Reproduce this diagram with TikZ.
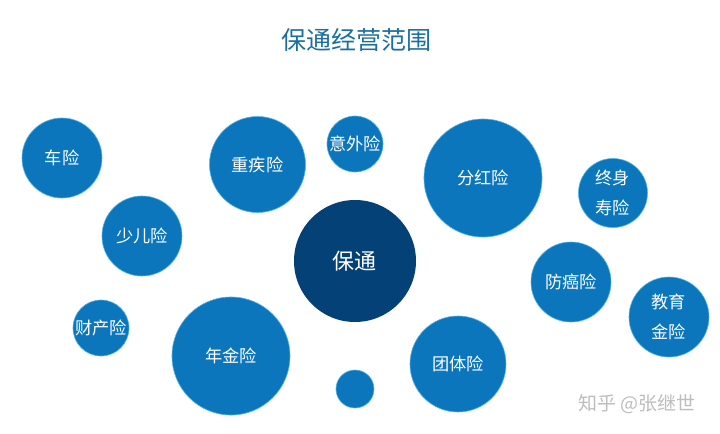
\documentclass[tikz,border=0pt]{standalone}
\usepackage{fontspec}
\setmainfont{Noto Sans CJK SC}
\usetikzlibrary{backgrounds}
\definecolor{ballblue}{HTML}{0B76BC}
\definecolor{hubblue}{HTML}{044177}
\definecolor{haloblue}{HTML}{4FB4E6}
\definecolor{titleblue}{HTML}{1B6F9F}
\definecolor{linkgrey}{HTML}{A8A8A8}
\definecolor{markgrey}{HTML}{BDBDBD}
\tikzset{
  x=0.5pt,y=-0.5pt,
  ball/.style={circle,fill=ballblue,draw=haloblue,line width=0.3pt,inner sep=0pt,outer sep=0pt,text=white,font=\fontsize{8.6}{15}\selectfont,align=center},
  hub/.style={circle,fill=hubblue,draw=none,inner sep=0pt,outer sep=0pt,text=white,font=\fontsize{11}{13}\selectfont,minimum size=61pt},
  link/.style={draw=linkgrey,line width=0.45pt},
}
\begin{document}
\begin{tikzpicture}
\useasboundingbox (0,0) rectangle (720,434);
\fill[white] (0,0) rectangle (720,434);
\node[text=titleblue,font=\fontsize{12.5}{15}\selectfont] (title) at (357,40) {保通经营范围};
\node[hub] (bt) at (355,261) {保通};
\node[ball,minimum size=40pt] (che) at (62,158) {车险};
\node[ball,minimum size=48pt] (zj) at (257.5,164.5) {重疾险};
\node[ball,minimum size=28pt] (yw) at (355,144) {意外险};
\node[ball,minimum size=40pt] (se) at (142,236) {少儿险};
\node[ball,minimum size=28pt] (cc) at (101,328) {财产险};
\node[ball,minimum size=59pt] (nj) at (231,356) {年金险};
\node[ball,minimum size=19pt] (xy) at (355,389) {};
\node[ball,minimum size=59pt] (fh) at (483,178) {分红险};
\node[ball,minimum size=34.5pt] (zs) at (613,193) {终身\\寿险};
\node[ball,minimum size=40pt] (fa) at (571,282) {防癌险};
\node[ball,minimum size=40pt] (jy) at (669,317) {教育\\金险};
\node[ball,minimum size=48pt] (tt) at (458,364) {团体险};
\node[text=markgrey,font=\fontsize{9.5}{12}\selectfont] (mark) at (637,404) {知乎 @张继世};
\begin{scope}[on background layer]
  \draw[link] (che.-10) -- (bt.161.6);
  \draw[link] (zj) -- (bt);
  \draw[link] (yw) -- (bt);
  \draw[link] (se.-13.7) -- (bt.182.8);
  \draw[link] (cc.19.6) -- (bt.167);
  \draw[link] (nj.44.3) -- (bt.214.7);
  \draw[link] (xy) -- (bt);
  \draw[link] (bt.31) -- (fh.215);
  \draw[link] (bt.16.7) -- (zs.194.4);
  \draw[link] (bt.-7.5) -- (fa.174);
  \draw[link] (bt.-20.8) -- (jy.180);
  \draw[link] (bt) -- (tt);
\end{scope}
\end{tikzpicture}
\end{document}
